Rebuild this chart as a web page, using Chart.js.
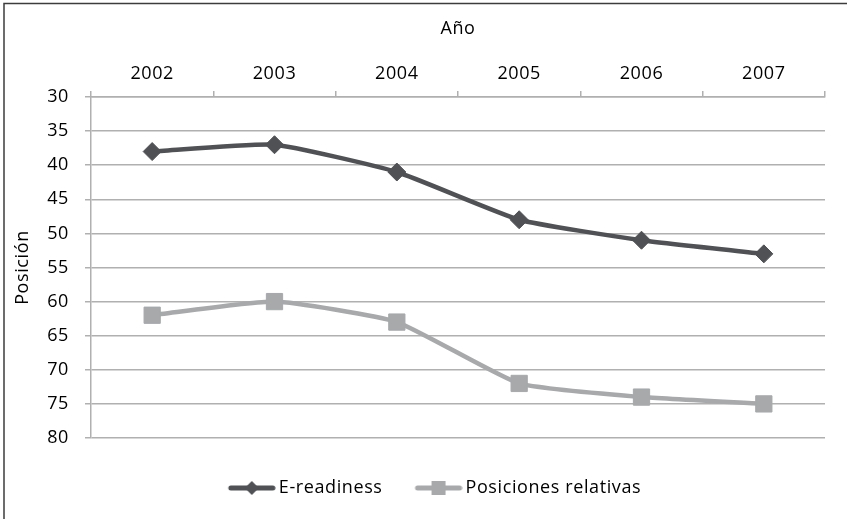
<!DOCTYPE html>
<html>
<head>
<meta charset="utf-8">
<script src="https://cdn.jsdelivr.net/npm/chart.js@4/dist/chart.umd.min.js"></script>
<style>
  html, body { margin: 0; padding: 0; background: #fff; }
  #wrap { width: 847px; height: 519px; position: relative; }
</style>
</head>
<body>
<div id="wrap"><canvas id="c" width="847" height="519"></canvas></div>
<script>
// Years along the top axis
const years = ['2002', '2003', '2004', '2005', '2006', '2007'];
// Ranking positions per year (lower is better)
const eReadiness = [38, 37, 41, 48, 51, 53];
const posicionesRelativas = [62, 60, 63, 72, 74, 75];
// Position axis range
const posMin = 30, posMax = 80, posStep = 5;

const darkGray = '#4f5154';
const lightGray = '#a7a9ab';
const gridGray = '#b0b0b0';
const FONT = '"Open Sans", Lato, sans-serif';
const FS = 18;

// Legend swatch: short line with the series marker in the middle,
// placed at the right end of a wider transparent box so it sits close to its text
function legendSwatch(color, kind) {
  const cv = document.createElement('canvas');
  cv.width = 70; cv.height = 18;
  const g = cv.getContext('2d');
  g.strokeStyle = color; g.lineWidth = 5; g.lineCap = 'round';
  g.beginPath(); g.moveTo(25, 9); g.lineTo(67, 9); g.stroke();
  g.fillStyle = color;
  g.beginPath();
  if (kind === 'diamond') {
    g.moveTo(46, 2); g.lineTo(53, 9); g.lineTo(46, 16); g.lineTo(39, 9);
  } else {
    g.rect(39, 2, 14, 14);
  }
  g.closePath(); g.fill();
  return cv;
}

// Slightly wider text tracking for all labels
const tracking = {
  id: 'tracking',
  beforeUpdate(chart) { chart.ctx.letterSpacing = '0.6px'; },
  beforeDraw(chart) { chart.ctx.letterSpacing = '0.6px'; }
};

// Nudge the legend row a little to the right
const legendNudge = {
  id: 'legendNudge',
  afterLayout(chart) {
    if (chart.legend) { chart.legend.left += 8; chart.legend.right += 8; }
  }
};

// Outer frame lines (left and top edges)
const frame = {
  id: 'frame',
  afterDraw(chart) {
    const ctx = chart.ctx;
    ctx.save();
    ctx.strokeStyle = '#3c3c3c';
    ctx.lineWidth = 1.5;
    ctx.beginPath();
    ctx.moveTo(4, 519); ctx.lineTo(4, 3.5); ctx.lineTo(847, 3.5);
    ctx.stroke();
    ctx.restore();
  }
};

new Chart(document.getElementById('c'), {
  type: 'line',
  data: {
    labels: years,
    datasets: [
      {
        label: 'E-readiness',
        data: eReadiness,
        borderColor: darkGray,
        backgroundColor: darkGray,
        borderWidth: 4.5,
        pointStyle: 'rectRot',
        pointRadius: 9,
        pointBorderWidth: 1,
        tension: 0.15
      },
      {
        label: 'Posiciones relativas',
        data: posicionesRelativas,
        borderColor: lightGray,
        backgroundColor: lightGray,
        borderWidth: 4.5,
        pointStyle: 'rect',
        pointRadius: 11.5,
        pointBorderWidth: 1,
        tension: 0.15
      }
    ]
  },
  options: {
    responsive: false,
    animation: false,
    layout: { padding: { top: 10, left: 12, right: 22, bottom: 12 } },
    plugins: {
      tooltip: { enabled: false },
      legend: {
        position: 'bottom',
        labels: {
          color: '#000',
          font: { family: FONT, size: FS },
          padding: 16,
          usePointStyle: true,
          pointStyleWidth: 58,
          generateLabels(chart) {
            return chart.data.datasets.map((ds, i) => ({
              text: ds.label,
              datasetIndex: i,
              fontColor: '#000',
              pointStyle: legendSwatch(ds.borderColor, i === 0 ? 'diamond' : 'square'),
              lineWidth: 0,
              strokeStyle: 'transparent',
              fillStyle: ds.borderColor,
              hidden: false
            }));
          }
        }
      }
    },
    scales: {
      x: {
        position: 'top',
        offset: true,
        title: {
          display: true,
          text: 'Año',
          color: '#000',
          font: { family: FONT, size: FS },
          padding: { top: 8, bottom: 12 }
        },
        ticks: { color: '#000', font: { family: FONT, size: FS }, padding: 6 },
        grid: {
          offset: true,
          drawOnChartArea: false,
          drawTicks: true,
          tickLength: 6,
          color: gridGray,
          lineWidth: 1.5
        },
        border: { display: true, color: gridGray, width: 1.5 },
        afterFit(scale) { scale.height = 87; }
      },
      // spacer between the plot and the legend
      gap: {
        type: 'category',
        position: 'bottom',
        display: true,
        grid: { display: false },
        ticks: { display: false },
        border: { display: false },
        afterFit(scale) { scale.height = 25; }
      },
      y: {
        reverse: true,
        min: posMin,
        max: posMax,
        ticks: { stepSize: posStep, color: '#000', font: { family: FONT, size: FS }, padding: 16 },
        title: {
          display: true,
          text: 'Posición',
          color: '#000',
          font: { family: FONT, size: FS },
          padding: { top: 0, bottom: 0 }
        },
        grid: {
          color: gridGray,
          lineWidth: 1.5,
          tickLength: 6
        },
        border: { display: true, color: gridGray, width: 1.5 },
        afterFit(scale) { scale.width = 79; }
      }
    }
  },
  plugins: [tracking, legendNudge, frame]
});
</script>
</body>
</html>
